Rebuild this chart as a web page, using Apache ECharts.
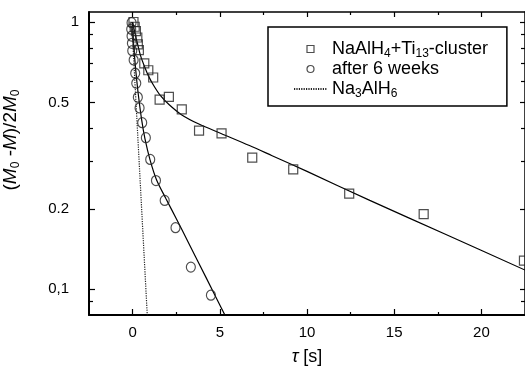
<!DOCTYPE html>
<html><head><meta charset="utf-8">
<script src="https://cdn.jsdelivr.net/npm/echarts@6/dist/echarts.min.js"></script>
<style>html,body{margin:0;padding:0;background:#fff}#c{width:525px;height:371px}</style>
</head><body><div id="c"></div>
<script>
// ---- data ----
const squareX = [0.05, 0.12, 0.19, 0.27, 0.30, 0.36, 0.67, 0.90, 1.18, 1.55, 2.08, 2.82, 3.81, 5.10, 6.86, 9.21, 12.42, 16.69, 22.44];
const squareY = [1.0, 0.96, 0.925, 0.875, 0.825, 0.785, 0.70, 0.66, 0.62, 0.512, 0.525, 0.471, 0.392, 0.383, 0.311, 0.281, 0.228, 0.191, 0.128];

const circleX = [-0.06, -0.08, -0.06, -0.04, -0.02, 0.06, 0.15, 0.21, 0.30, 0.40, 0.55, 0.76, 1.01, 1.34, 1.84, 2.46, 3.34, 4.49];
const circleY = [0.994, 0.94, 0.886, 0.832, 0.781, 0.721, 0.643, 0.59, 0.523, 0.477, 0.42, 0.369, 0.306, 0.255, 0.215, 0.170, 0.121, 0.095];

const fitSquareX = [0, 0.1, 0.2, 0.3, 0.45, 0.65, 0.9, 1.2, 1.6, 2.1, 2.8, 3.8, 5.1, 6.7, 8, 10, 13.6, 18, 22.5];
const fitSquareY = [1.0, 0.93, 0.87, 0.82, 0.75, 0.69, 0.63, 0.58, 0.53, 0.49, 0.45, 0.415, 0.382, 0.345, 0.316, 0.276, 0.215, 0.160, 0.118];

const fitCircleX = [0, 0.05, 0.13, 0.2, 0.32, 0.52, 0.71, 1.0, 1.37, 1.9, 2.5, 3.19, 4.2, 5.4];
const fitCircleY = [1.0, 0.84, 0.72, 0.64, 0.54, 0.43, 0.365, 0.305, 0.257, 0.219, 0.184, 0.150, 0.111, 0.0775];

const na3X = [-0.05, 0.85];
const na3Y = [1.0, 0.078];

const xMajorTicks = [0, 5, 10, 15, 20];
const xMinorTicks = [2.5, 7.5, 12.5, 17.5];
const yLabelTicks = [0.1, 0.2, 0.5];
const yLabelOne = [1];
const yMajorTicks = [0.1, 0.2, 0.5, 1];
const yMinorTicks = [0.09, 0.3, 0.4, 0.6, 0.7, 0.8, 0.9];

const seriesNames = ['NaAlH4+Ti13-cluster', 'after 6 weeks', 'Na3AlH6'];

// ---- chart ----
const FONT = "'Liberation Sans', Arial, Helvetica, sans-serif";
const zip = (a, b) => a.map((v, i) => [v, b[i]]);
const chart = echarts.init(document.getElementById('c'), null, {renderer: 'canvas'});

const X_MIN = -2.5, X_MAX = 22.5, Y_MIN = 0.0801, Y_MAX = 1.09;

function xAx(pos, ticks, len, lineW, extra) {
  return Object.assign({
    type: 'value', min: X_MIN, max: X_MAX, position: pos,
    axisLine: {show: lineW > 0, onZero: false, lineStyle: {color: '#000', width: lineW}},
    axisTick: {show: true, inside: true, length: len, customValues: ticks, lineStyle: {color: '#000', width: 1.2}},
    axisLabel: {show: false},
    splitLine: {show: false}
  }, extra || {});
}
function yAx(pos, ticks, len, lineW, extra) {
  return Object.assign({
    type: 'log', logBase: 10, min: Y_MIN, max: Y_MAX, position: pos,
    axisLine: {show: lineW > 0, onZero: false, lineStyle: {color: '#000', width: lineW}},
    axisTick: {show: ticks.length > 0, inside: true, length: len, customValues: ticks, lineStyle: {color: '#000', width: 1.2}},
    axisLabel: {show: false},
    splitLine: {show: false}
  }, extra || {});
}
const yFmt = v => { const r = Math.round(v * 100) / 100; return r === 0.1 ? '0,1' : String(r); };

const legendRich = {
  n: {fontSize: 18, fontFamily: FONT, color: '#000', lineHeight: 20},
  s: {fontSize: 12, fontFamily: FONT, color: '#000', lineHeight: 20, padding: [10, 0, 0, 0]}
};
function legendFmt(name) {
  if (name === seriesNames[0]) return '{n|NaAlH}{s|4}{n|+Ti}{s|13}{n|-cluster}';
  if (name === seriesNames[2]) return '{n|Na}{s|3}{n|AlH}{s|6}';
  return '{n|' + name + '}';
}

chart.setOption({
  animation: false,
  backgroundColor: '#fff',
  grid: {left: 89, right: 0, top: 12, bottom: 56, containLabel: false, outerBoundsMode: 'none'},
  xAxis: [
    xAx('bottom', xMajorTicks, 6, 2, {
      axisLabel: {show: true, customValues: xMajorTicks, fontSize: 15, fontFamily: FONT, color: '#000', margin: 10},
      name: '{i|τ} [s]', nameLocation: 'middle', nameGap: 33,
      nameTextStyle: {fontSize: 18, fontFamily: FONT, color: '#000', rich: {i: {fontStyle: 'italic', fontSize: 18, fontFamily: FONT, color: '#000'}}}
    }),
    xAx('bottom', xMinorTicks, 3, 0),
    xAx('top', xMajorTicks, 5, 1.5),
    xAx('top', xMinorTicks, 3, 0)
  ],
  yAxis: [
    yAx('left', yMajorTicks, 6, 2, {
      axisLabel: {show: true, customValues: yLabelTicks, formatter: yFmt, fontSize: 15, fontFamily: FONT, color: '#000', margin: 20}
    }),
    yAx('left', [], 0, 0, {
      axisLabel: {show: true, customValues: yLabelOne, formatter: yFmt, fontSize: 15, fontFamily: FONT, color: '#000', margin: 10}
    }),
    yAx('left', yMinorTicks, 4, 0),
    yAx('right', yMajorTicks, 5, 1.5),
    yAx('right', yMinorTicks, 4, 0)
  ],
  legend: {
    orient: 'vertical', left: 268, top: 27,
    padding: [11, 19, 6, 25], itemGap: 0, itemWidth: 33, itemHeight: 7,
    borderColor: '#000', borderWidth: 1.5, backgroundColor: '#fff',
    symbolKeepAspect: true,
    data: [
      {name: seriesNames[0], icon: 'path://M0,0L10,0L10,10L0,10Z',
       itemStyle: {color: 'rgba(0,0,0,0)', borderColor: '#222', borderWidth: 1.2}},
      {name: seriesNames[1], icon: 'circle',
       itemStyle: {color: 'rgba(0,0,0,0)', borderColor: '#222', borderWidth: 1.2}},
      {name: seriesNames[2], itemStyle: {color: 'rgba(0,0,0,0)', borderColor: 'rgba(0,0,0,0)', borderWidth: 0}}
    ],
    formatter: legendFmt,
    textStyle: {fontSize: 18, fontFamily: FONT, color: '#000', rich: legendRich},
    selectedMode: false
  },
  graphic: [{
    type: 'text', x: 11, y: 140, rotation: Math.PI / 2,
    style: {
      text: '({i|M}{s|0} -{i|M})/2{i|M}{s|0}',
      fontSize: 19, fontFamily: FONT, fill: '#000',
      align: 'center', verticalAlign: 'middle',
      rich: {
        i: {fontStyle: 'italic', fontSize: 19, fontFamily: FONT, fill: '#000'},
        s: {fontSize: 12, fontFamily: FONT, fill: '#000', padding: [10, 0, 0, 0]}
      }
    }
  }],
  series: [
    {
      name: seriesNames[0], type: 'scatter', xAxisIndex: 0, yAxisIndex: 0,
      symbol: 'rect', symbolSize: 9, data: zip(squareX, squareY), z: 3,
      itemStyle: {color: 'rgba(0,0,0,0)', borderColor: '#222', borderWidth: 1.2}
    },
    {
      name: seriesNames[1], type: 'scatter', xAxisIndex: 0, yAxisIndex: 0,
      symbol: 'circle', symbolSize: [9, 10], data: zip(circleX, circleY), z: 3,
      itemStyle: {color: 'rgba(0,0,0,0)', borderColor: '#222', borderWidth: 1.2}
    },
    {
      name: seriesNames[2], type: 'line', xAxisIndex: 0, yAxisIndex: 0,
      symbol: 'none', data: zip(na3X, na3Y), clip: true,
      lineStyle: {color: '#222', width: 1.2, type: [1.2, 1.2]}
    },
    {
      name: 'fit1', type: 'line', xAxisIndex: 0, yAxisIndex: 0,
      symbol: 'none', smooth: 0.3, data: zip(fitSquareX, fitSquareY), clip: true,
      lineStyle: {color: '#000', width: 1.2}
    },
    {
      name: 'fit2', type: 'line', xAxisIndex: 0, yAxisIndex: 0,
      symbol: 'none', smooth: 0.3, data: zip(fitCircleX, fitCircleY), clip: true,
      lineStyle: {color: '#000', width: 1.2}
    }
  ]
});
</script>
</body></html>
